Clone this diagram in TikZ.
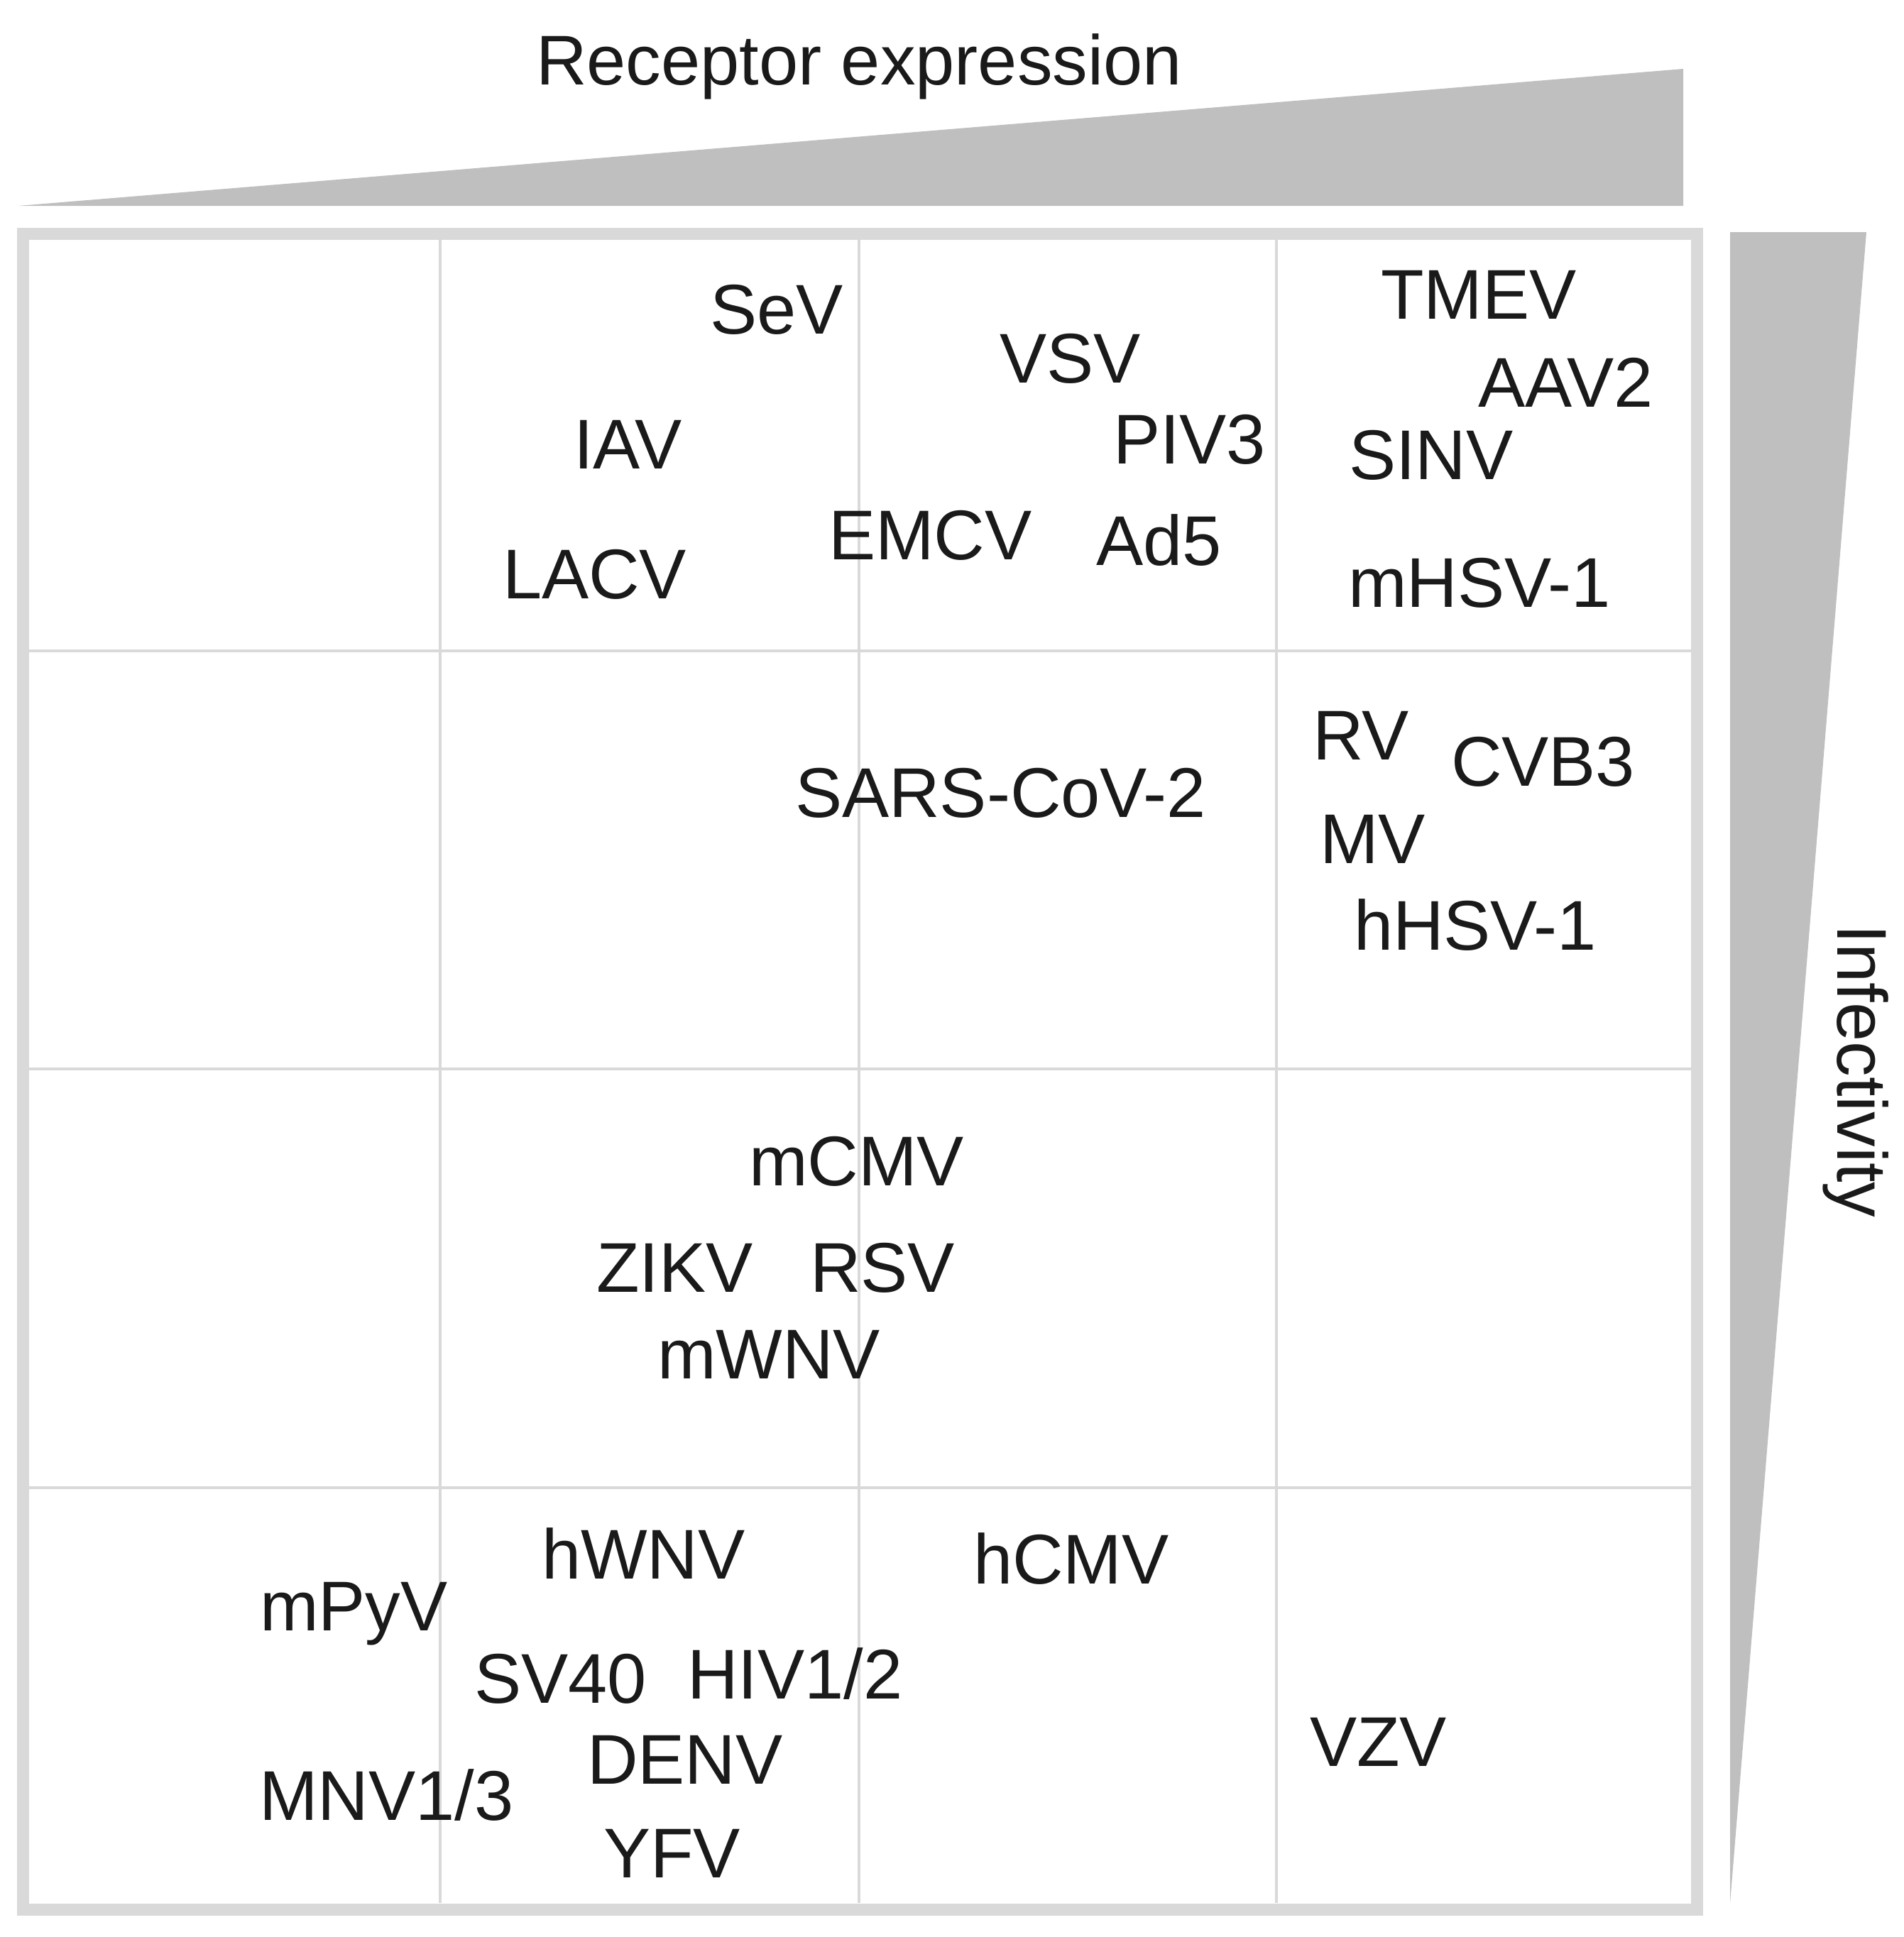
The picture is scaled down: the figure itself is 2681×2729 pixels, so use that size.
\documentclass[tikz,border=0pt]{standalone}
\usepackage{fontspec}
\setmainfont{Liberation Sans}
\definecolor{framegray}{HTML}{D9D9D9}
\definecolor{wedgegray}{HTML}{BFBFBF}
\definecolor{txt}{HTML}{1A1A1A}
\begin{document}
\begin{tikzpicture}[x=0.25pt,y=-0.25pt,
  lbl/.style={anchor=base west,inner sep=0pt,outer sep=0pt,text=txt,font=\fontsize{24.8}{30}\selectfont},
  gridline/.style={draw=framegray,line width=1pt},
  framebox/.style={draw=framegray,line width=4.25pt},
  wedge/.style={fill=wedgegray,draw=none}]
\useasboundingbox (0,0) rectangle (2681,2729);
% wedges
\fill[wedge] (26,290) -- (2371,290) -- (2371,97) -- cycle;
\fill[wedge] (2437,327) -- (2629,327) -- (2437,2681) -- cycle;
% grid
\foreach \x in {620,1210,1798} \draw[gridline] (\x,338) -- (\x,2681);
\foreach \y in {917,1506,2096} \draw[gridline] (41,\y) -- (2382,\y);
\draw[framebox] (32.5,329) rectangle (2390.5,2690);
% axis titles
\node[lbl] (rec) at (755,120) {Receptor expression};
\node[lbl,rotate=-90] (inf) at (2588,1302) {Infectivity};
% row 1
\node[lbl] (sev) at (1000,470) {SeV};
\node[lbl] (vsv) at (1408,539) {VSV};
\node[lbl] (iav) at (808,660) {IAV};
\node[lbl] (piv) at (1568,653) {PIV3};
\node[lbl] (emcv) at (1167,788) {EMCV};
\node[lbl] (ad5) at (1544,796) {Ad5};
\node[lbl] (lacv) at (708,843) {LACV};
\node[lbl] (tmev) at (1945,449) {TMEV};
\node[lbl] (aav) at (2082,573) {AAV2};
\node[lbl] (sinv) at (1900,675) {SINV};
\node[lbl] (mhsv) at (1899,855) {mHSV-1};
% row 2
\node[lbl] (sars) at (1120,1151) {SARS-CoV-2};
\node[lbl] (rv) at (1849,1070) {RV};
\node[lbl] (cvb) at (2044,1107) {CVB3};
\node[lbl] (mv) at (1859,1216) {MV};
\node[lbl] (hhsv) at (1907,1338) {hHSV-1};
% row 3
\node[lbl] (mcmv) at (1055,1670) {mCMV};
\node[lbl] (zikv) at (840,1820) {ZIKV};
\node[lbl] (rsv) at (1141,1820) {RSV};
\node[lbl] (mwnv) at (926,1942) {mWNV};
% row 4
\node[lbl] (hwnv) at (763,2224) {hWNV};
\node[lbl] (hcmv) at (1371,2231) {hCMV};
\node[lbl] (mpyv) at (366,2297) {mPyV};
\node[lbl] (sv40) at (668,2399) {SV40};
\node[lbl] (hiv) at (968,2393) {HIV1/2};
\node[lbl] (denv) at (827,2513) {DENV};
\node[lbl] (mnv) at (365,2564) {MNV1/3};
\node[lbl] (yfv) at (850,2645) {YFV};
\node[lbl] (vzv) at (1845,2488) {VZV};
\end{tikzpicture}
\end{document}
